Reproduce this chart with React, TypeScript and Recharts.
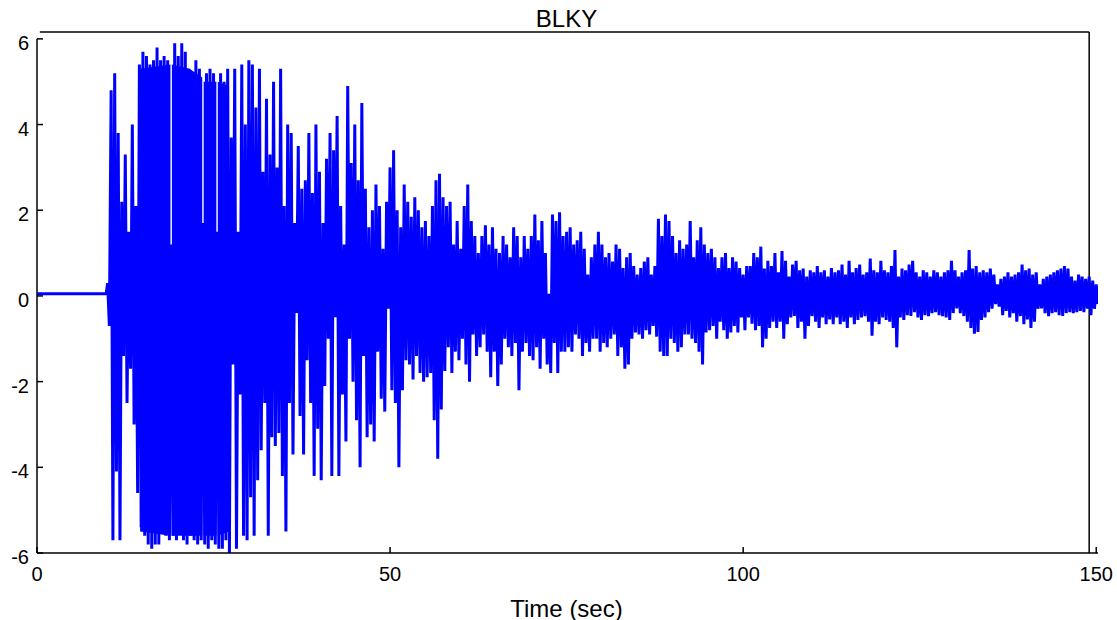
import { ComposedChart, Line, Area, XAxis, YAxis, ReferenceLine } from 'recharts'

// quiet record before the first arrival
const preEventTimes = [0, 9.8]
const preEventLevels = [0.05, 0.05]

// after onset: one positive and one negative swing every half second
const onsetTime = 10
const sampleStep = 0.5

const upperPeaks = [
  0.3, 4.8, 5.2, 3.8, 2.2, 3.3, 1.5, 4.0, 2.1, 5.4, // 10
  5.7, 5.6, 5.4, 5.5, 5.8, 5.5, 5.6, 5.5, 1.2, 5.9, // 15
  5.6, 5.9, 5.7, 5.3, 4.4, 5.5, 5.3, 1.7, 5.2, 5.3, // 20
  5.2, 1.5, 5.2, 5.0, 5.3, 3.7, 5.3, 1.5, 5.4, 4.0, // 25
  5.5, 5.4, 4.4, 5.3, 2.9, 4.6, 3.3, 5.0, 3.0, 5.3, // 30
  2.1, 4.0, 3.8, 1.7, 3.5, 2.5, 2.7, 3.8, 2.4, 4.0, // 35
  2.9, 1.7, 3.2, 3.8, 3.4, 4.2, 2.1, 1.2, 4.9, 3.1, // 40
  4.0, 2.7, 4.5, 2.5, 1.6, 2.0, 2.6, 2.1, 1.1, 2.2, // 45
  3.0, 3.4, 2.0, 1.6, 2.6, 2.2, 1.85, 2.3, 2.0, 1.6, // 50
  1.75, 1.4, 2.1, 2.7, 2.85, 2.3, 2.1, 2.2, 1.2, 1.75, // 55
  1.1, 2.1, 2.6, 1.75, 1.4, 1.0, 1.4, 1.65, 1.2, 1.6, // 60
  1.1, 1.0, 1.4, 1.2, 0.9, 1.6, 1.4, 0.9, 1.4, 1.1, // 65
  1.4, 1.9, 1.3, 1.75, 1.0, 0.05, 1.9, 1.75, 1.95, 1.4, // 70
  1.5, 1.6, 1.2, 1.3, 1.5, 1.1, 0.5, 0.9, 1.2, 1.5, // 75
  1.2, 0.9, 1.0, 0.8, 1.2, 1.1, 0.65, 0.9, 1.0, 0.7, // 80
  0.5, 0.65, 0.8, 0.9, 0.5, 0.7, 1.8, 1.4, 1.9, 1.75, // 85
  1.4, 1.0, 1.3, 1.1, 1.2, 1.75, 0.9, 1.3, 1.6, 1.2, // 90
  1.0, 1.1, 0.9, 0.65, 0.9, 1.0, 0.65, 0.9, 0.8, 0.65, // 95
  0.5, 0.7, 0.7, 1.0, 0.9, 1.15, 0.64, 0.82, 0.7, 1.0, // 100
  0.55, 1.05, 0.82, 0.45, 0.73, 0.82, 0.6, 0.64, 0.45, 0.6, // 105
  0.55, 0.7, 0.55, 0.6, 0.45, 0.65, 0.55, 0.6, 0.73, 0.5, // 110
  0.82, 0.55, 0.65, 0.73, 0.5, 0.55, 0.87, 0.6, 0.55, 0.82, // 115
  0.6, 0.55, 0.7, 1.07, 0.45, 0.64, 0.6, 0.73, 0.82, 0.55, // 120
  0.45, 0.6, 0.55, 0.45, 0.6, 0.55, 0.45, 0.55, 0.6, 0.82, // 125
  0.6, 0.45, 0.55, 0.6, 1.07, 0.64, 0.7, 0.55, 0.6, 0.55, // 130
  0.64, 0.5, 0.27, 0.4, 0.45, 0.55, 0.45, 0.5, 0.55, 0.73, // 135
  0.6, 0.64, 0.5, 0.55, 0.27, 0.4, 0.45, 0.5, 0.55, 0.6, // 140
  0.64, 0.7, 0.64, 0.45, 0.36, 0.5, 0.45, 0.4, 0.45, 0.36, // 145
  0.27, // 150
]

const lowerPeaks = [
  -0.7, -5.7, -4.1, -5.7, -1.4, -2.5, -1.7, -3.0, -4.6, -5.4, // 10
  -5.6, -5.8, -5.9, -5.8, -5.8, -5.1, -5.6, -5.7, -5.6, -5.7, // 15
  -5.0, -5.7, -5.8, -5.6, -5.7, -5.8, -5.7, -5.8, -5.9, -5.7, // 20
  -5.8, -5.9, -5.9, -5.7, -6.0, -1.6, -5.9, -2.3, -5.6, -5.7, // 25
  -4.7, -5.6, -4.3, -3.6, -2.5, -5.6, -3.3, -3.5, -3.2, -4.2, // 30
  -5.5, -2.5, -3.7, -0.4, -2.8, -3.7, -1.5, -2.5, -4.2, -3.1, // 35
  -4.3, -2.1, -1.0, -4.2, -0.5, -4.2, -2.3, -3.4, -1.0, -2.0, // 40
  -2.9, -4.0, -1.4, -3.3, -3.0, -3.4, -1.3, -2.4, -2.7, -0.3, // 45
  -2.2, -2.5, -4.0, -2.2, -1.5, -1.6, -1.95, -1.4, -1.8, -2.0, // 50
  -1.9, -1.8, -2.9, -3.8, -2.65, -1.75, -1.2, -1.8, -1.3, -1.5, // 55
  -1.0, -1.6, -2.0, -0.9, -1.4, -1.2, -0.9, -1.3, -1.9, -1.3, // 60
  -2.1, -1.6, -1.0, -1.2, -1.4, -1.1, -2.2, -1.3, -1.1, -1.4, // 65
  -1.5, -1.2, -1.7, -1.0, -1.6, -1.8, -1.1, -1.8, -1.3, -1.3, // 70
  -1.2, -1.3, -0.9, -1.0, -1.4, -1.1, -1.3, -1.0, -1.0, -1.3, // 75
  -1.1, -1.2, -1.0, -0.9, -1.4, -1.2, -1.7, -1.6, -1.0, -0.85, // 80
  -0.9, -1.0, -0.8, -0.9, -0.7, -0.95, -1.3, -1.4, -1.4, -1.0, // 85
  -1.1, -1.3, -1.2, -0.9, -0.9, -1.0, -1.1, -1.3, -1.6, -0.85, // 90
  -0.8, -0.7, -1.0, -0.6, -0.8, -1.0, -0.85, -0.7, -0.85, -0.5, // 95
  -0.8, -0.5, -0.65, -0.8, -0.7, -1.2, -1.0, -0.75, -0.6, -0.75, // 100
  -0.6, -1.0, -0.66, -0.5, -0.47, -0.75, -0.6, -1.0, -0.7, -0.47, // 105
  -0.6, -0.75, -0.5, -0.66, -0.55, -0.66, -0.5, -0.66, -0.6, -0.75, // 110
  -0.5, -0.66, -0.56, -0.5, -0.47, -0.6, -0.93, -0.6, -0.66, -0.5, // 115
  -0.56, -0.6, -0.75, -1.2, -0.5, -0.56, -0.45, -0.47, -0.38, -0.5, // 120
  -0.56, -0.45, -0.47, -0.4, -0.38, -0.45, -0.47, -0.5, -0.56, -0.4, // 125
  -0.29, -0.4, -0.47, -0.6, -0.75, -0.88, -0.84, -0.56, -0.5, -0.38, // 130
  -0.3, -0.19, -0.25, -0.45, -0.35, -0.5, -0.4, -0.6, -0.47, -0.66, // 135
  -0.55, -0.75, -0.6, -0.3, -0.29, -0.4, -0.47, -0.4, -0.38, -0.45, // 140
  -0.47, -0.4, -0.38, -0.4, -0.38, -0.35, -0.38, -0.3, -0.45, -0.3, // 145
  -0.19, // 150
]

// clipped (saturated) stretch that prints as a solid block; nulls are the thin white gaps
const clipTimes = [14.6, 18.9, 19.0, 19.1, 21.6, 23.4, 23.5, 23.6, 25.4, 25.5, 25.6, 27.2]
const clipTop = [5.3, 5.4, null, 5.4, 5.3, 5.1, null, 5.0, 5.0, null, 5.0, 4.9]
const clipBottom = [-5.5, -5.6, null, -5.6, -5.6, -5.6, null, -5.6, -5.6, null, -5.6, -5.5]

const timeTicks = [0, 50, 100, 150]
const ampTicks = [-6, -4, -2, 0, 2, 4, 6]

const stationName = 'BLKY'
const timeLabel = 'Time (sec)'

const trace = [
  ...preEventTimes.map((t, i) => ({ t, v: preEventLevels[i] })),
  ...upperPeaks.flatMap((hi, i) => [
    { t: onsetTime + i * sampleStep, v: hi },
    { t: onsetTime + i * sampleStep + sampleStep / 2, v: lowerPeaks[i] },
  ]),
]

const clipBand = clipTimes.map((t, i) => ({
  t,
  band: clipTop[i] == null ? null : [clipBottom[i], clipTop[i]],
}))

const FONT = '"Liberation Sans", Arial, sans-serif'
const W = 1117
const H = 620
const BLUE = '#0000ff'

export default function App(): React.ReactElement {
  return (
    <div style={{ position: 'relative', width: W, height: H, background: '#fff', fontFamily: FONT }}>
      <style>{'body{margin:0}'}</style>
      <div
        style={{
          position: 'absolute', left: 37, width: 1059, top: 7, textAlign: 'center',
          fontSize: 24, lineHeight: '24px', color: '#000',
        }}
      >
        {stationName}
      </div>
      <ComposedChart width={W} height={H} data={trace} margin={{ top: 32, right: 19, bottom: 27, left: 0 }}>
        <XAxis
          dataKey="t"
          type="number"
          domain={[0, 150.25]}
          allowDataOverflow
          ticks={timeTicks}
          height={40}
          tickSize={-6}
          tickMargin={20}
          axisLine={{ stroke: '#000', strokeWidth: 1.5 }}
          tickLine={{ stroke: '#000', strokeWidth: 1.5 }}
          tick={{ fill: '#000', fontSize: 20, fontFamily: FONT }}
        />
        <YAxis
          type="number"
          domain={[-6, 6.16]}
          allowDataOverflow
          ticks={ampTicks}
          width={37}
          tickSize={-6}
          tickMargin={14}
          axisLine={false}
          tickLine={{ stroke: '#000', strokeWidth: 1.5 }}
          tick={{ fill: '#000', fontSize: 20, fontFamily: FONT, dy: 4 }}
        />
        <ReferenceLine segment={[{ x: 0, y: -6 }, { x: 0, y: 6 }]} stroke="#000" strokeWidth={1.5} />
        <ReferenceLine segment={[{ x: 0.4, y: 6.16 }, { x: 149, y: 6.16 }]} stroke="#000" strokeWidth={1.5} />
        <ReferenceLine segment={[{ x: 149, y: -6 }, { x: 149, y: 6.16 }]} stroke="#000" strokeWidth={1.5} />
        <Area
          data={clipBand}
          dataKey="band"
          type="linear"
          stroke="none"
          fill={BLUE}
          fillOpacity={1}
          connectNulls={false}
          dot={false}
          activeDot={false}
          isAnimationActive={false}
        />
        <Line
          dataKey="v"
          type="linear"
          stroke={BLUE}
          strokeWidth={3}
          strokeLinejoin="bevel"
          dot={false}
          activeDot={false}
          isAnimationActive={false}
        />
      </ComposedChart>
      <div
        style={{
          position: 'absolute', left: 37, width: 1059, top: 597, textAlign: 'center',
          fontSize: 24, lineHeight: '24px', color: '#000',
        }}
      >
        {timeLabel}
      </div>
    </div>
  )
}
